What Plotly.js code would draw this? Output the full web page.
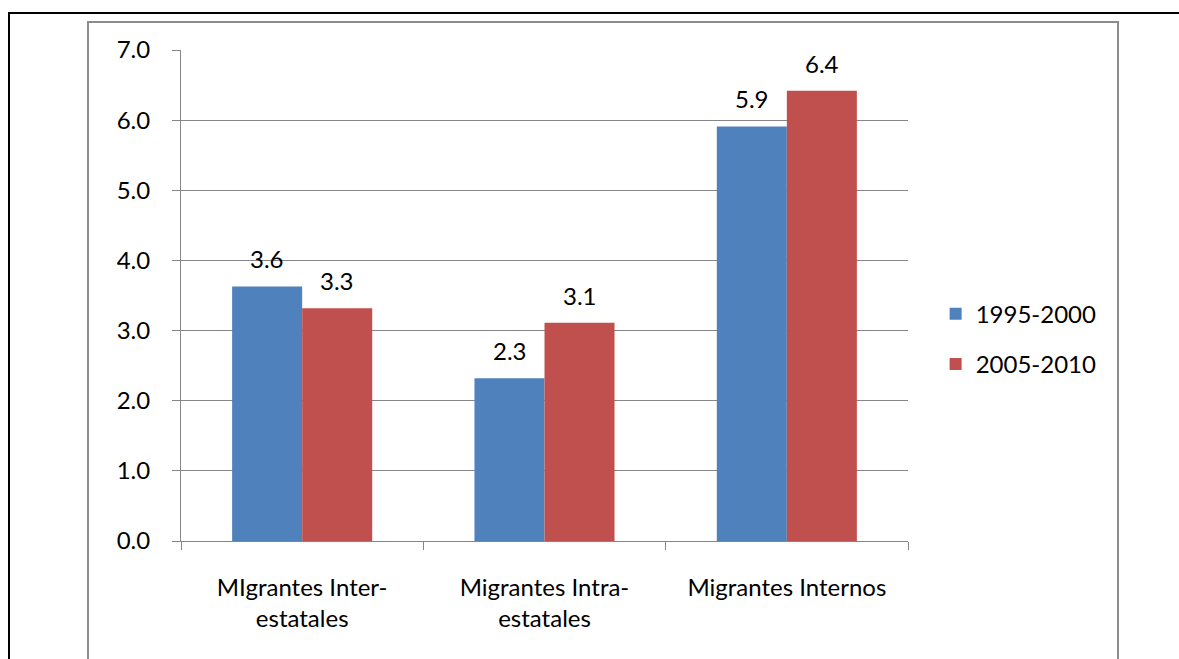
<!DOCTYPE html>
<html>
<head>
<meta charset="utf-8">
<script src="https://cdn.plot.ly/plotly-3.0.1.min.js"></script>
<style>
  html, body { margin: 0; padding: 0; background: #fff; }
  #wrap { position: relative; width: 1179px; height: 659px; overflow: hidden; }
  #chart { position: absolute; left: 0; top: 0; width: 1179px; height: 659px; }
  .outer { position: absolute; left: 8px; top: 12px; width: 1300px; height: 800px;
           border-top: 2px solid #000; border-left: 2px solid #000; pointer-events: none; }
  .inner { position: absolute; left: 87px; top: 21px; width: 1028px; height: 800px;
           border-top: 2px solid #8c8c8c; border-left: 2px solid #8c8c8c; border-right: 2px solid #8c8c8c;
           pointer-events: none; }
</style>
</head>
<body>
<div id="wrap">
  <div id="chart"></div>
  <div class="outer"></div>
  <div class="inner"></div>
</div>
<script>
const categories = ["MIgrantes Inter-<br>estatales", "Migrantes Intra-<br>estatales", "Migrantes Internos"];
const seriesNames = ["1995-2000", "2005-2010"];
const values1995 = [3.63, 2.32, 5.91];
const values2005 = [3.32, 3.11, 6.42];
const yTickVals = [0, 1, 2, 3, 4, 5, 6, 7];

const FONT = "Lato, 'Open Sans', sans-serif";
const FS = 24;
const colors = ["#4F81BD", "#C0504D"];

const traces = [
  { type: "bar", name: seriesNames[0], x: categories, y: values1995,
    marker: { color: colors[0] }, legendgroup: "a", hoverinfo: "none" },
  { type: "bar", name: seriesNames[1], x: categories, y: values2005,
    marker: { color: colors[1] }, legendgroup: "b", hoverinfo: "none" }
];

const annotations = [];
[values1995, values2005].forEach((vals, s) => {
  vals.forEach((v, i) => {
    annotations.push({
      x: categories[i], y: v, xref: "x", yref: "y",
      text: v.toFixed(1), showarrow: false,
      xanchor: "center", yanchor: "bottom",
      xshift: s === 0 ? -35 : 35, yshift: 11,
      font: { family: FONT, size: FS, color: "#000" }
    });
  });
});

const layout = {
  width: 1179, height: 659,
  margin: { l: 181, r: 271, t: 50, b: 118, pad: 0 },
  paper_bgcolor: "rgba(0,0,0,0)", plot_bgcolor: "rgba(0,0,0,0)",
  font: { family: FONT, size: FS, color: "#000" },
  barmode: "group", bargap: 0.422, bargroupgap: 0,
  showlegend: true,
  legend: {
    x: 1.038, xanchor: "left", y: 0.411, yanchor: "middle",
    traceorder: "grouped", tracegroupgap: 16,
    font: { family: FONT, size: FS, color: "#000" },
    bgcolor: "rgba(0,0,0,0)"
  },
  xaxis: {
    type: "category", showgrid: false, showline: true, linecolor: "#868686", linewidth: 1,
    ticks: "outside", tickson: "boundaries", ticklen: 8, tickcolor: "#868686",
    ticklabelstandoff: 25, zeroline: false,
    tickfont: { family: FONT, size: FS, color: "#000" }
  },
  yaxis: {
    range: [0, 7], tickvals: yTickVals, tickformat: ".1f",
    showgrid: true, gridcolor: "#868686", gridwidth: 1,
    showline: true, linecolor: "#868686", linewidth: 1,
    ticks: "outside", ticklen: 8, tickcolor: "#868686",
    ticklabelstandoff: 17, zeroline: false,
    tickfont: { family: FONT, size: FS, color: "#000" }
  },
  annotations: annotations
};

Plotly.newPlot("chart", traces, layout, { staticPlot: true, displayModeBar: false });
</script>
</body>
</html>
